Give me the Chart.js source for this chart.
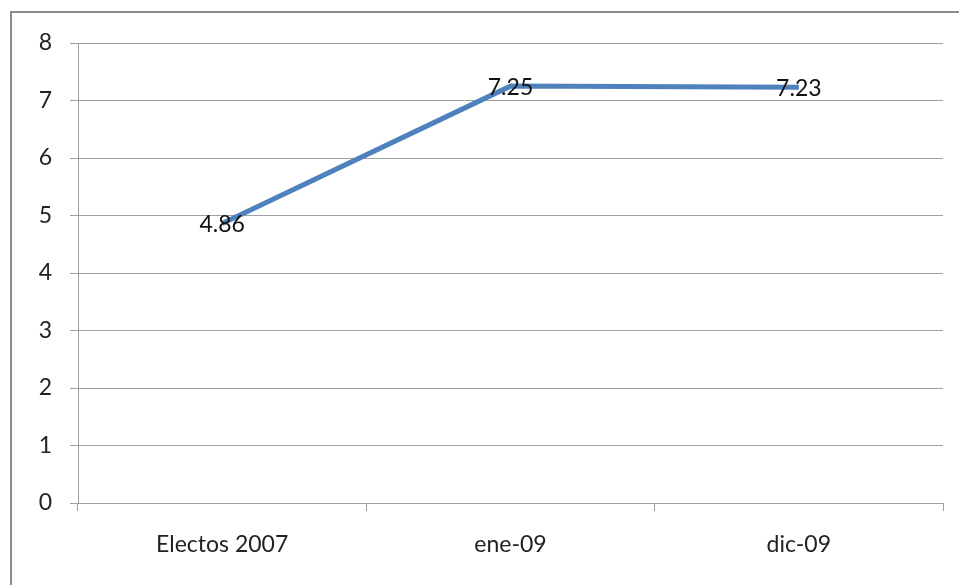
<!DOCTYPE html>
<html>
<head>
<meta charset="utf-8">
<script src="https://cdn.jsdelivr.net/npm/chart.js@4"></script>
<style>
  body { margin: 0; background: #fff; }
  #wrap { position: absolute; left: 0; top: 0; width: 959px; height: 585px; }
  #frame { position: absolute; left: 10px; top: 11px; width: 960px; height: 600px;
           border-left: 2px solid #8c8c8c; border-top: 2px solid #8c8c8c; }
</style>
</head>
<body>
<div id="wrap"><canvas id="grafico"></canvas></div>
<div id="frame"></div>
<script>
const categorias = ["Electos 2007", "ene-09", "dic-09"];
const valores = [4.86, 7.25, 7.23];
const yMin = 0;
const yMax = 8;

// etiquetas de datos centradas sobre cada punto
const etiquetas = {
  id: "etiquetas",
  afterDatasetsDraw(chart) {
    const ctx = chart.ctx;
    const meta = chart.getDatasetMeta(0);
    ctx.save();
    ctx.font = "23px Lato";
    ctx.fillStyle = "#111";
    ctx.textAlign = "center";
    ctx.textBaseline = "middle";
    meta.data.forEach((p, i) => {
      ctx.fillText(valores[i].toFixed(2), p.x, p.y + 1);
    });
    ctx.restore();
  },
};

new Chart(document.getElementById("grafico"), {
  type: "line",
  data: {
    labels: categorias,
    datasets: [
      {
        data: valores,
        borderColor: "#4f81bd",
        borderWidth: 5,
        pointRadius: 0,
        tension: 0,
      },
    ],
  },
  options: {
    responsive: true,
    maintainAspectRatio: false,
    animation: false,
    layout: { padding: { left: 0, top: 43, right: 16, bottom: 0 } },
    plugins: { legend: { display: false }, tooltip: { enabled: false } },
    scales: {
      x: {
        offset: true,
        afterFit: (s) => { s.height = 82; },
        grid: { offset: true, drawOnChartArea: false, tickLength: 8, color: "#a0a0a0" },
        border: { color: "#a0a0a0", width: 1 },
        ticks: { color: "#222", font: { family: "Lato", size: 23 }, padding: 20, maxRotation: 0 },
      },
      y: {
        min: yMin,
        max: yMax,
        afterFit: (s) => { s.width = 78; },
        grid: { color: "#a0a0a0", tickLength: 8 },
        border: { color: "#a0a0a0", width: 1 },
        ticks: { stepSize: 1, color: "#222", font: { family: "Lato", size: 23 }, padding: 18 },
      },
    },
  },
  plugins: [etiquetas],
});
</script>
</body>
</html>
